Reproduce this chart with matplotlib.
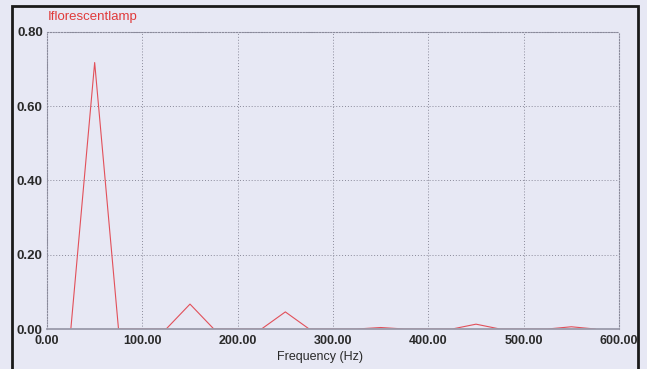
import matplotlib.pyplot as plt
from matplotlib.patches import Rectangle

# spectrum of the fluorescent lamp signal, sampled every 25 Hz
freq_hz = [25, 50, 75, 100, 125, 150, 175, 200, 225, 250, 275, 300,
           325, 350, 375, 400, 425, 450, 475, 500, 525, 550, 575]
amplitude = [0.0, 0.717, 0.0, 0.0, 0.0, 0.067, 0.0, 0.0, 0.0, 0.046, 0.0, 0.0,
             0.0, 0.004, 0.0, 0.0, 0.0, 0.013, 0.0, 0.0, 0.0, 0.006, 0.0]

x_ticks = [0, 100, 200, 300, 400, 500, 600]
y_ticks = [0.0, 0.2, 0.4, 0.6, 0.8]
series_name = "Iflorescentlamp"

plt.rcParams["font.family"] = ["Liberation Sans", "DejaVu Sans"]
bg = "#e7e8f4"
text_col = "#2a2a2a"

fig = plt.figure(figsize=(6.47, 3.69), dpi=100, facecolor=bg)
ax = fig.add_axes([47 / 647, 1 - 329 / 369, 572 / 647, 297.3 / 369])
ax.set_facecolor(bg)

ax.plot(freq_hz, amplitude, color="#e2505a", lw=0.8, zorder=2)

ax.set_xlim(0, 600)
ax.set_ylim(0, 0.8)
ax.set_xticks(x_ticks)
ax.set_yticks(y_ticks)
ax.set_xticklabels([f"{v:.2f}" for v in x_ticks])
ax.set_yticklabels([f"{v:.2f}" for v in y_ticks])
ax.tick_params(length=0, labelcolor=text_col)
ax.tick_params(axis="x", pad=4, labelsize=9)
ax.tick_params(axis="y", pad=3, labelsize=9.5)
for lbl in ax.get_xticklabels() + ax.get_yticklabels():
    lbl.set_fontweight("bold")

ax.grid(True, color="#8a8a9a", linestyle=(0, (1, 2)), linewidth=0.7)
for side in ax.spines.values():
    side.set_color("#8a8a9a")
    side.set_linestyle((0, (1, 1.5)))
    side.set_linewidth(0.8)
# solid baseline drawn over the zero-valued stretches of the trace
ax.spines["bottom"].set_linestyle("-")
ax.spines["bottom"].set_color("#9a9aaa")
ax.spines["bottom"].set_linewidth(1.3)
ax.spines["bottom"].set_zorder(3)

fig.text(320 / 647, 1 - 357 / 369, "Frequency (Hz)", fontsize=9,
         color=text_col, ha="center", va="center")

fig.text(48 / 647, 1 - 17 / 369, series_name, color="#e03a3a",
         fontsize=9.5, va="center", ha="left")

# outer chart frame
fig.patches.append(Rectangle((12 / 647, -0.05), 626 / 647, 1.05 - 6 / 369,
                             transform=fig.transFigure, fill=False,
                             edgecolor="#1a1a1a", linewidth=2))

fig.savefig("out.png", dpi=100, facecolor=bg)
